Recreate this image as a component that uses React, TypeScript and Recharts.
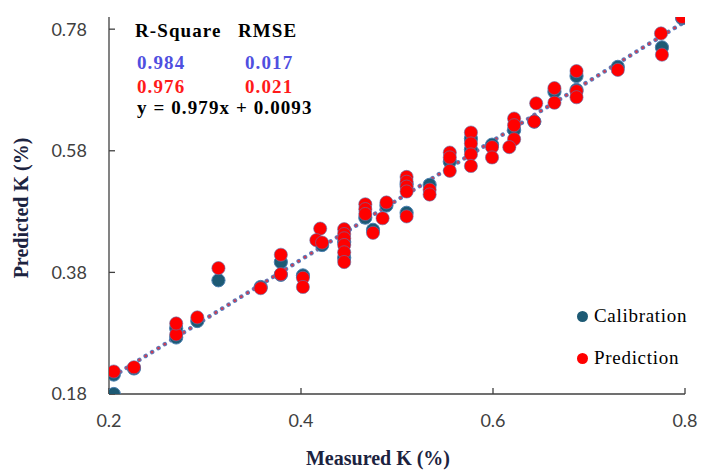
import { ScatterChart, Scatter, XAxis, YAxis, ReferenceLine } from 'recharts';

// calibration set: measured vs predicted K (%)
const calMeasured = [0.205, 0.205, 0.226, 0.27, 0.27, 0.292, 0.314, 0.358, 0.379, 0.379, 0.402, 0.422, 0.445, 0.445, 0.467, 0.475, 0.489, 0.51, 0.51, 0.534, 0.555, 0.577, 0.577, 0.599, 0.622, 0.643, 0.664, 0.687, 0.687, 0.73, 0.776, 0.797];
const calPredicted = [0.18, 0.212, 0.222, 0.273, 0.288, 0.3, 0.367, 0.356, 0.397, 0.376, 0.375, 0.425, 0.404, 0.43, 0.47, 0.45, 0.49, 0.478, 0.525, 0.524, 0.562, 0.582, 0.6, 0.59, 0.614, 0.628, 0.677, 0.68, 0.703, 0.718, 0.75, 0.798];

// prediction set
const predMeasured = [0.205, 0.226, 0.27, 0.27, 0.292, 0.314, 0.358, 0.379, 0.379, 0.402, 0.402, 0.42, 0.416, 0.422, 0.445, 0.445, 0.445, 0.445, 0.445, 0.445, 0.467, 0.467, 0.467, 0.475, 0.485, 0.489, 0.51, 0.51, 0.51, 0.51, 0.51, 0.534, 0.534, 0.555, 0.555, 0.555, 0.577, 0.577, 0.577, 0.577, 0.599, 0.599, 0.622, 0.622, 0.622, 0.617, 0.643, 0.645, 0.664, 0.664, 0.687, 0.687, 0.687, 0.73, 0.775, 0.776, 0.797];
const predPredicted = [0.217, 0.224, 0.278, 0.296, 0.306, 0.387, 0.354, 0.377, 0.409, 0.371, 0.356, 0.452, 0.433, 0.429, 0.451, 0.443, 0.436, 0.425, 0.413, 0.397, 0.492, 0.484, 0.476, 0.445, 0.469, 0.495, 0.537, 0.529, 0.521, 0.513, 0.472, 0.516, 0.508, 0.577, 0.569, 0.547, 0.61, 0.592, 0.574, 0.555, 0.586, 0.569, 0.633, 0.622, 0.599, 0.586, 0.628, 0.658, 0.683, 0.659, 0.711, 0.678, 0.668, 0.713, 0.773, 0.738, 0.8];

const xTicks = [0.2, 0.4, 0.6, 0.8];
const yTicks = [0.18, 0.38, 0.58, 0.78];

// fitted line y = 0.979x + 0.0093, drawn across the measured range
const slope = 0.979;
const intercept = 0.0093;
const trendX = [0.205, 0.797];

const calData = calMeasured.map((x, i) => ({ x, y: calPredicted[i] }));
const predData = predMeasured.map((x, i) => ({ x, y: predPredicted[i] }));
const trendSeg = trendX.map((x) => ({ x, y: slope * x + intercept }));

const serif = '"Liberation Serif", "Times New Roman", serif';

const dot = (fill: string, stroke: string) => (p: any) => (
  <circle cx={p.cx} cy={p.cy} r={6.6} fill={fill} stroke={stroke} strokeWidth={1} />
);

const legendItems = [
  { name: 'Calibration', color: '#1d5a74', top: 304 },
  { name: 'Prediction', color: '#ff0000', top: 346 },
];

const txt = (left: number, top: number, color: string, s: string) => (
  <div style={{ position: 'absolute', left, top, color, fontFamily: serif, fontWeight: 'bold', fontSize: 19, lineHeight: '20px', letterSpacing: 1.1, whiteSpace: 'nowrap' }}>{s}</div>
);

export default function App() {
  return (
    <div style={{ position: 'absolute', left: 0, top: 0, width: 708, height: 470, background: '#fff' }}>
      <ScatterChart width={708} height={470} margin={{ top: 17, right: 23, bottom: 0, left: 0 }}>
        <XAxis
          type="number"
          dataKey="x"
          domain={[0.2, 0.8]}
          ticks={xTicks}
          tickFormatter={(v: number) => String(v)}
          height={76}
          tickSize={-6}
          tickMargin={26}
          axisLine={{ stroke: '#404040', strokeWidth: 1.3 }}
          tickLine={{ stroke: '#404040', strokeWidth: 1.3 }}
          tick={{ fill: '#404040', fontSize: 18, fontFamily: 'Lato, sans-serif' }}
          allowDataOverflow
        />
        <YAxis
          type="number"
          dataKey="y"
          domain={[0.18, 0.8]}
          ticks={yTicks}
          tickFormatter={(v: number) => v.toFixed(2)}
          width={109}
          tickSize={-6}
          tickMargin={28}
          axisLine={{ stroke: '#404040', strokeWidth: 1.3 }}
          tickLine={{ stroke: '#404040', strokeWidth: 1.3 }}
          tick={{ fill: '#404040', fontSize: 18, fontFamily: 'Lato, sans-serif' }}
          allowDataOverflow
        />
        <Scatter name="Calibration" data={calData} fill="#1d5a74" shape={dot('#1d5a74', '#4a7fb0')} isAnimationActive={false} />
        <Scatter name="Prediction" data={predData} fill="#ff0000" shape={dot('#ff0000', 'rgba(90,120,180,0.6)')} isAnimationActive={false} />
        <ReferenceLine segment={trendSeg} stroke="#5b7fc0" strokeWidth={4.5} strokeDasharray="0.1 7.4" strokeLinecap="round" ifOverflow="visible" />
        <ReferenceLine segment={trendSeg} stroke="#cc3f55" strokeWidth={2.6} strokeDasharray="0.1 7.4" strokeLinecap="round" ifOverflow="visible" />
      </ScatterChart>

      {legendItems.map((e) => (
        <div key={e.name} style={{ position: 'absolute', left: 577, top: e.top, height: 24, display: 'flex', alignItems: 'center', fontFamily: serif, fontSize: 19, letterSpacing: 0.7, color: '#000', whiteSpace: 'nowrap' }}>
          <span style={{ width: 11, height: 11, borderRadius: '50%', background: e.color, display: 'inline-block', marginRight: 6 }} />
          <span>{e.name}</span>
        </div>
      ))}

      {txt(135, 21, '#000', 'R-Square')}
      {txt(238, 21, '#000', 'RMSE')}
      {txt(137, 53, '#4f4fe0', '0.984')}
      {txt(245, 53, '#4f4fe0', '0.017')}
      {txt(137, 77, '#ff1a1a', '0.976')}
      {txt(245, 77, '#ff1a1a', '0.021')}
      {txt(137, 98, '#000', 'y = 0.979x + 0.0093')}

      <div style={{ position: 'absolute', left: 378, top: 458, transform: 'translate(-50%, -50%)', fontFamily: serif, fontWeight: 'bold', fontSize: 20, color: '#1c2340', whiteSpace: 'nowrap' }}>
        Measured K (%)
      </div>
      <div style={{ position: 'absolute', left: 21, top: 208, transform: 'translate(-50%, -50%) rotate(-90deg)', fontFamily: serif, fontWeight: 'bold', fontSize: 20, color: '#1c2340', whiteSpace: 'nowrap' }}>
        Predicted K (%)
      </div>
    </div>
  );
}
